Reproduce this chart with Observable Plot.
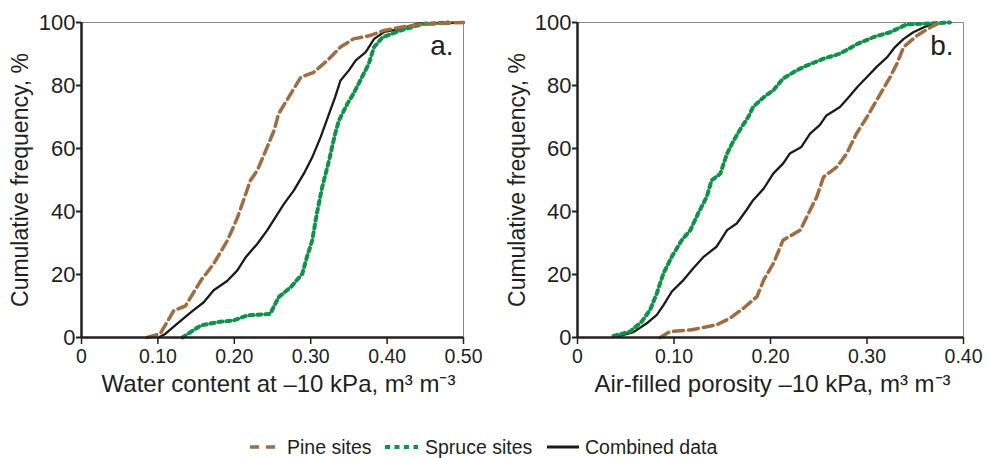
<!DOCTYPE html>
<html><head><meta charset="utf-8">
<script src="https://cdn.jsdelivr.net/npm/d3@7"></script>
<script src="https://cdn.jsdelivr.net/npm/@observablehq/plot@0.6"></script>
<style>
body{margin:0;background:#fff;font-family:"Liberation Sans",Arial,sans-serif;color:#231f20}
#wrap{position:relative;width:987px;height:458px;overflow:hidden}
#a{position:absolute;left:0;top:0}
#b{position:absolute;left:490px;top:0}
.lg{position:absolute;top:436px;font-size:19.5px;line-height:22px;white-space:nowrap}
.sw{position:absolute;top:436px}
</style>
</head><body>
<div id="wrap">
  <div id="a"></div>
  <div id="b"></div>
  <div id="legend"></div>
</div>
<script>
// ---- Panel a: water content at -10 kPa (m3 m-3) vs cumulative frequency (%)
const pineWaterX = [0.086,0.103,0.121,0.136,0.156,0.173,0.191,0.204,0.212,0.221,0.230,0.243,0.252,0.258,0.274,0.287,0.304,0.322,0.339,0.356,0.378,0.396,0.418,0.444,0.500];
const pineWaterY = [0,1.2,8.6,10,18,23.4,30.8,38,43.5,49.8,53,60.4,65.7,71,77.4,82.6,84.2,88,92.2,94.8,95.9,97.5,98.5,99.4,100];
const spruceWaterX = [0.132,0.156,0.178,0.199,0.217,0.247,0.258,0.274,0.289,0.295,0.302,0.308,0.315,0.324,0.332,0.337,0.348,0.356,0.367,0.376,0.383,0.394,0.418,0.448,0.480];
const spruceWaterY = [0,3.8,4.9,5.4,7,7.5,12.8,16,20.2,25.5,30.8,39.3,47.7,56.2,64.7,68.9,74.2,77.4,82.6,86.9,92.2,95.3,97.5,99.6,100];
const combWaterX = [0.101,0.110,0.125,0.143,0.160,0.173,0.191,0.204,0.215,0.230,0.243,0.254,0.265,0.278,0.291,0.302,0.313,0.324,0.332,0.339,0.350,0.359,0.372,0.383,0.396,0.418,0.439,0.500];
const combWaterY = [0,1.2,4.3,8,11.2,15,18,21.3,25.5,29.7,34,38.2,42.4,46.7,52,57.2,63.6,71,76.3,81.6,84.8,88,90.6,94.8,97,98,99.6,100];

// ---- Panel b: air-filled porosity at -10 kPa (m3 m-3) vs cumulative frequency (%)
const pineAirX = [0.0857,0.096,0.117,0.144,0.158,0.172,0.186,0.193,0.203,0.213,0.231,0.241,0.248,0.255,0.269,0.279,0.289,0.300,0.310,0.324,0.331,0.338,0.352,0.366,0.376];
const pineAirY = [0,1.9,2.4,4,6.1,9.3,13,18.3,23.5,30.9,34.1,40.4,44.7,51,54.2,58.4,64.7,70,75.3,82.7,86.9,92.2,95.9,98.5,100];
const spruceAirX = [0.0373,0.0546,0.0667,0.0753,0.0822,0.0891,0.0978,0.108,0.117,0.125,0.134,0.139,0.148,0.155,0.162,0.170,0.177,0.182,0.193,0.203,0.213,0.227,0.238,0.255,0.272,0.290,0.307,0.324,0.341,0.359,0.386];
const spruceAirY = [0.5,1.9,5.1,8.8,14,20.4,25.7,30.9,34.1,39.4,44.7,49.9,52,58.4,62.6,66.8,70,73.2,76.3,78.5,82.2,84.8,86.4,88.5,90.1,93.2,95.4,96.9,99.4,99.6,100];
const combAirX = [0.041,0.058,0.0718,0.0822,0.0891,0.0978,0.110,0.120,0.131,0.144,0.155,0.165,0.175,0.182,0.193,0.203,0.213,0.220,0.232,0.241,0.251,0.258,0.272,0.281,0.290,0.300,0.310,0.321,0.329,0.338,0.348,0.359,0.372];
const combAirY = [0.3,1.7,4.5,7.2,10.3,14.6,18.3,22,25.7,28.8,34.1,36.2,40.4,43.6,47.3,52.1,55.2,58.4,60.5,64.7,67.4,70.5,73.2,76.3,79.5,82.7,85.9,89,92.2,94.8,96.9,98.5,100];

const yTicks = [0,20,40,60,80,100];
const xTicksA = [0,0.1,0.2,0.3,0.4,0.5];
const xTicksB = [0,0.1,0.2,0.3,0.4];
const seriesNames = ["Pine sites","Spruce sites","Combined data"];
const yLabel = "Cumulative frequency, %";
const xLabelA = "Water content at \u201310 kPa, m\u00b3 m\u207b\u00b3";
const xLabelB = "Air-filled porosity \u201310 kPa, m\u00b3 m\u207b\u00b3";

const INK = "#231f20";
const styles = {
  "Pine sites": {stroke:"#a06d42", strokeWidth:3.5, strokeDasharray:"10,5"},
  "Spruce sites": {stroke:"#10924a", strokeWidth:4, strokeDasharray:"4,4"},
  "Combined data": {stroke:"#1a1a1a", strokeWidth:2.3}
};

const zip = (xs, ys) => xs.map((x, i) => ({x, y: ys[i]}));
const fmt = d => d === 0 ? "0" : d.toFixed(2);

function panel({width, marginLeft, marginRight, xmax, xTicks, xLabel, tag, data, xLabelDx, yLabelDx}) {
  const lines = seriesNames.slice().reverse().map(name =>
    Plot.line(data[name], {x:"x", y:"y", ...styles[name], strokeLinejoin:"round"}));
  return Plot.plot({
    width, height: 400, marginLeft, marginRight, marginTop: 22, marginBottom: 63,
    style: {fontFamily: "Liberation Sans, Arial, sans-serif", color: INK, background: "white", overflow: "visible"},
    x: {domain: [0, xmax]},
    y: {domain: [0, 100]},
    marks: [
      Plot.frame({stroke: "#8a8a8a", strokeWidth: 1}),
      Plot.axisY({ticks: yTicks, tickSize: 5, tickPadding: 1, fontSize: 22, label: null, stroke: INK, strokeWidth: 2}),
      Plot.axisX({ticks: xTicks, tickFormat: fmt, tickSize: 7, tickPadding: 5, fontSize: 19.5, label: null, stroke: INK, strokeWidth: 1.5}),
      ...lines,
      Plot.ruleX([0], {stroke: INK, strokeWidth: 2.5}),
      Plot.ruleY([0], {stroke: INK, strokeWidth: 2.5}),
      Plot.text([yLabel], {frameAnchor: "left", textAnchor: "middle", rotate: -90, dx: yLabelDx, fontSize: 23, fill: INK}),
      Plot.text([xLabel], {frameAnchor: "bottom", dy: 54, dx: xLabelDx, fontSize: 24, fill: INK}),
      Plot.text([tag], {frameAnchor: "top-right", dx: -10, dy: 13, fontSize: 28, fill: INK})
    ]
  });
}

document.getElementById("a").append(panel({
  width: 490, marginLeft: 81, marginRight: 27, xmax: 0.5, xTicks: xTicksA, xLabel: xLabelA, tag: "a.", xLabelDx: 6, yLabelDx: -61,
  data: {"Pine sites": zip(pineWaterX, pineWaterY), "Spruce sites": zip(spruceWaterX, spruceWaterY), "Combined data": zip(combWaterX, combWaterY)}
}));
document.getElementById("b").append(panel({
  width: 497, marginLeft: 87, marginRight: 24, xmax: 0.4, xTicks: xTicksB, xLabel: xLabelB, tag: "b.", xLabelDx: 2, yLabelDx: -60,
  data: {"Pine sites": zip(pineAirX, pineAirY), "Spruce sites": zip(spruceAirX, spruceAirY), "Combined data": zip(combAirX, combAirY)}
}));

// legend
const lgPos = [{sw:250, w:26, tx:287}, {sw:385, w:33, tx:425}, {sw:547, w:32, tx:585}];
const leg = document.getElementById("legend");
seriesNames.forEach((name, i) => {
  const p = lgPos[i], s = styles[name];
  const sw = document.createElementNS("http://www.w3.org/2000/svg", "svg");
  sw.setAttribute("width", p.w); sw.setAttribute("height", 22);
  sw.setAttribute("class", "sw"); sw.style.left = p.sw + "px";
  const ln = document.createElementNS("http://www.w3.org/2000/svg", "line");
  ln.setAttribute("x1", 0); ln.setAttribute("x2", p.w); ln.setAttribute("y1", 11); ln.setAttribute("y2", 11);
  ln.setAttribute("stroke", s.stroke); ln.setAttribute("stroke-width", name === "Combined data" ? 3 : s.strokeWidth);
  if (name === "Pine sites") ln.setAttribute("stroke-dasharray", "9,7");
  if (name === "Spruce sites") ln.setAttribute("stroke-dasharray", "5,4.5");
  sw.append(ln);
  leg.append(sw);
  const t = document.createElement("div");
  t.className = "lg"; t.style.left = p.tx + "px"; t.textContent = name;
  leg.append(t);
});
</script>
</body></html>
